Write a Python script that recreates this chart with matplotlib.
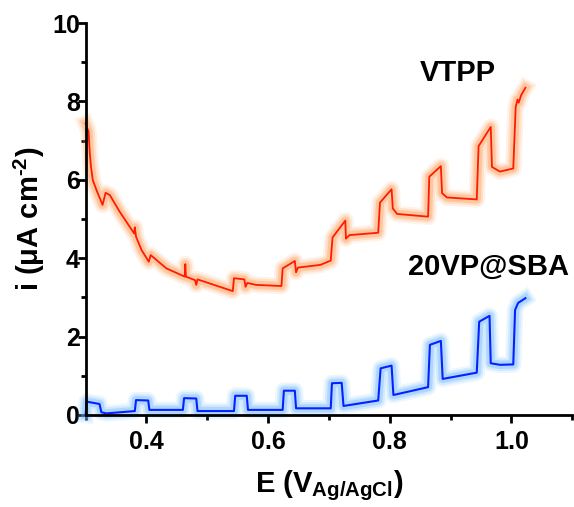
import matplotlib
matplotlib.use("Agg")
import matplotlib.pyplot as plt
import matplotlib.patheffects as pe
from matplotlib.ticker import MultipleLocator

plt.rcParams['font.family'] = ['Liberation Sans', 'DejaVu Sans']
plt.rcParams['font.weight'] = 'bold'
plt.rcParams['mathtext.fontset'] = 'custom'
plt.rcParams['mathtext.rm'] = 'Liberation Sans:bold'
plt.rcParams['mathtext.default'] = 'rm'

# VTPP (red) current vs potential under chopped light
vtpp_E = [0.300, 0.305, 0.307, 0.309, 0.312, 0.318, 0.328, 0.333, 0.340, 0.356,
          0.380, 0.381, 0.383, 0.392, 0.404, 0.407, 0.433, 0.463, 0.464, 0.465,
          0.480, 0.482, 0.484, 0.542, 0.544, 0.561, 0.563, 0.566, 0.580, 0.622,
          0.624, 0.644, 0.646, 0.649, 0.686, 0.703, 0.706, 0.727, 0.728, 0.734,
          0.781, 0.784, 0.803, 0.805, 0.812, 0.863, 0.865, 0.884, 0.886, 0.894,
          0.943, 0.946, 0.966, 0.968, 0.981, 1.003, 1.007, 1.010, 1.012, 1.016,
          1.023]
vtpp_i = [7.44, 7.23, 6.68, 6.33, 5.99, 5.74, 5.36, 5.67, 5.61, 5.19,
          4.63, 4.79, 4.55, 4.21, 3.91, 4.08, 3.74, 3.53, 3.85, 3.53,
          3.44, 3.32, 3.46, 3.16, 3.49, 3.46, 3.27, 3.37, 3.32, 3.29,
          3.74, 3.93, 3.64, 3.76, 3.83, 3.94, 4.53, 4.96, 4.50, 4.59,
          4.65, 5.42, 5.76, 5.27, 5.13, 5.06, 6.08, 6.35, 5.66, 5.55,
          5.50, 6.86, 7.35, 6.33, 6.21, 6.29, 7.86, 8.05, 7.97, 8.16,
          8.35]

# 20VP@SBA (blue)
sba_E = [0.300, 0.302, 0.323, 0.326, 0.334, 0.381, 0.383, 0.403, 0.405, 0.460,
         0.462, 0.482, 0.484, 0.544, 0.546, 0.565, 0.567, 0.624, 0.626, 0.644,
         0.646, 0.703, 0.705, 0.721, 0.724, 0.781, 0.785, 0.803, 0.806, 0.863,
         0.866, 0.884, 0.887, 0.943, 0.947, 0.964, 0.966, 0.981, 1.003, 1.006,
         1.011, 1.023]
sba_i = [0.00, 0.34, 0.28, 0.07, 0.04, 0.10, 0.38, 0.37, 0.13, 0.13,
         0.43, 0.42, 0.10, 0.10, 0.49, 0.49, 0.13, 0.13, 0.62, 0.62,
         0.17, 0.17, 0.81, 0.82, 0.23, 0.37, 1.19, 1.26, 0.51, 0.71,
         1.79, 1.89, 0.92, 1.08, 2.38, 2.53, 1.32, 1.28, 1.29, 2.68,
         2.86, 2.98]

x_ticks = [0.4, 0.6, 0.8, 1.0]
x_ticklabels = ['0.4', '0.6', '0.8', '1.0']


def glow(color):
    # soft halo round the line, built from a few wide translucent strokes
    return [pe.Stroke(linewidth=12, foreground=color, alpha=0.12),
            pe.Stroke(linewidth=9, foreground=color, alpha=0.2),
            pe.Stroke(linewidth=6, foreground=color, alpha=0.35),
            pe.Normal()]


fig = plt.figure(figsize=(5.74, 5.07), dpi=100)
ax = fig.add_axes([0.149, 0.1815, 0.848, 0.773])

ax.plot(vtpp_E, vtpp_i, color='#ff1a00', lw=1.3, clip_on=False,
        path_effects=glow('#ff9a50'))
ax.plot(sba_E, sba_i, color='#0a1fff', lw=1.5, clip_on=False,
        path_effects=glow('#6ab8ff'))

ax.text(0.912, 8.72, 'VTPP', fontsize=21, fontweight='bold',
        ha='center', va='center')
ax.text(0.963, 3.78, '20VP@SBA', fontsize=21, fontweight='bold',
        ha='center', va='center')

ax.set_xlim(0.3, 1.1)
ax.set_ylim(0, 10)
ax.xaxis.set_minor_locator(MultipleLocator(0.1))
ax.yaxis.set_major_locator(MultipleLocator(2))
ax.yaxis.set_minor_locator(MultipleLocator(1))
ax.set_xticks(x_ticks)
ax.set_xticklabels(x_ticklabels)

for side in ['top', 'right']:
    ax.spines[side].set_visible(False)
for side in ['left', 'bottom']:
    ax.spines[side].set_linewidth(2)

ax.tick_params(which='major', direction='out', length=6, width=2,
               labelsize=18)
ax.tick_params(which='minor', direction='out', length=3.5, width=2)
ax.tick_params(axis='x', which='major', pad=5)
ax.tick_params(axis='y', which='major', pad=-2)
for lab in ax.get_xticklabels() + ax.get_yticklabels():
    lab.set_fontweight('bold')

ax.set_xlabel('E (V$_{Ag/AgCl}$)', fontsize=21, fontweight='bold', labelpad=10)
ax.set_ylabel(r'i (μA cm$^{\text{-}2}$)', fontsize=21, fontweight='bold',
              labelpad=4)

fig.savefig('out.png', dpi=100)
